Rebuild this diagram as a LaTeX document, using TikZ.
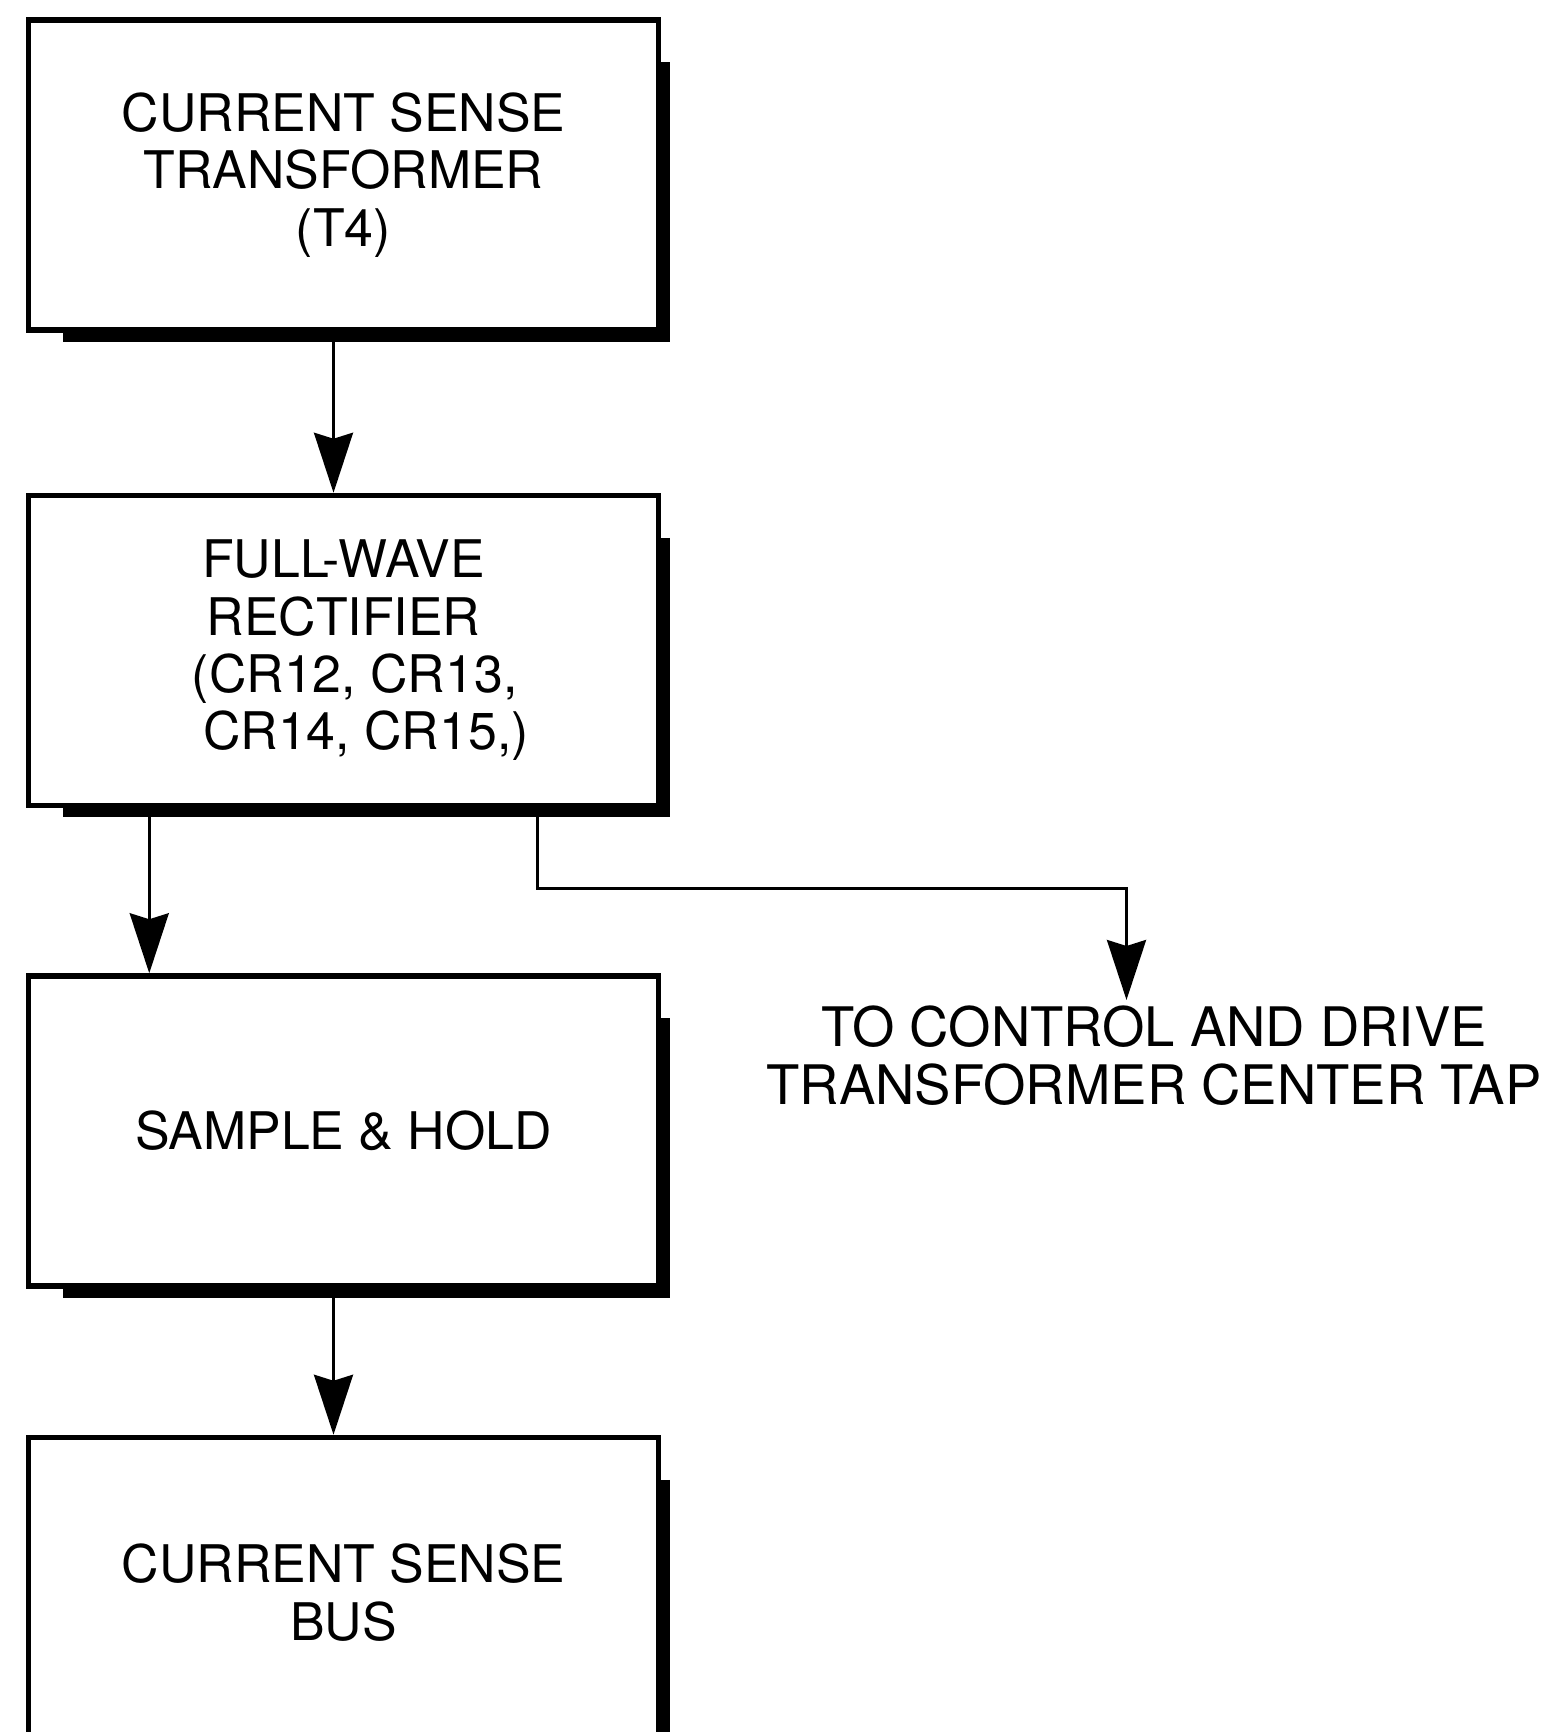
\documentclass[tikz,border=0pt]{standalone}
\usepackage{fontspec}
\setmainfont{TeX Gyre Heros}
\usetikzlibrary{positioning,arrows.meta}

\tikzset{
    block/.style={draw, line width=0.11cm, minimum width=12.6cm, minimum height=6.2cm,
        inner sep=0pt, align=center, font=\fontsize{29.5}{32.6}\selectfont},
    shade line/.style={line width=0.18cm},
    flow/.style={line width=0.06cm, -{Stealth[length=1.2cm, width=0.78cm, inset=0.12cm]}},
    note/.style={align=center, inner sep=0.1cm, font=\fontsize{31}{33.5}\selectfont}
}

\begin{document}
\begin{tikzpicture}
    \useasboundingbox (0,0) rectangle (31.14,-34.64);
    \clip (0,0) rectangle (31.14,-34.64);

    % Boxes
    \node[block] (cst) at (6.87,-3.5) {CURRENT SENSE\\TRANSFORMER\\(T4)};
    \node[block, below=3.2cm of cst] (fwr)
        {FULL-WAVE\\RECTIFIER\\\hspace{0.45cm}(CR12, CR13,\\\hspace{0.9cm}CR14, CR15,)};
    \node[block, below=3.3cm of fwr] (snh) {SAMPLE \& HOLD};
    \node[block, below=2.92cm of snh] (csb) {CURRENT SENSE\\BUS};

    % heavy edge on the right and bottom of each box
    \foreach \n in {cst,fwr,snh,csb}
        \draw[shade line] ([shift={(0.09,-0.9)}]\n.north east)
            -- ([shift={(0.09,-0.09)}]\n.south east)
            -- ([shift={(0.75,-0.09)}]\n.south west);

    \node[note, anchor=north] (dest) at (23.08,-20.0)
        {TO CONTROL AND DRIVE\\TRANSFORMER CENTER TAP};

    % Arrows
    \draw[flow] ([xshift=-0.2cm]cst.south) -- ([xshift=-0.2cm]fwr.north);
    \draw[flow] ([xshift=2.47cm]fwr.south west) -- ([xshift=2.47cm]fwr.south west |- snh.north);
    \draw[flow] ([xshift=-2.47cm]fwr.south east) -- ++(0,-1.6) -| ([xshift=-0.55cm]dest.north);
    \draw[flow] ([xshift=-0.2cm]snh.south) -- ([xshift=-0.2cm]csb.north);
\end{tikzpicture}
\end{document}
